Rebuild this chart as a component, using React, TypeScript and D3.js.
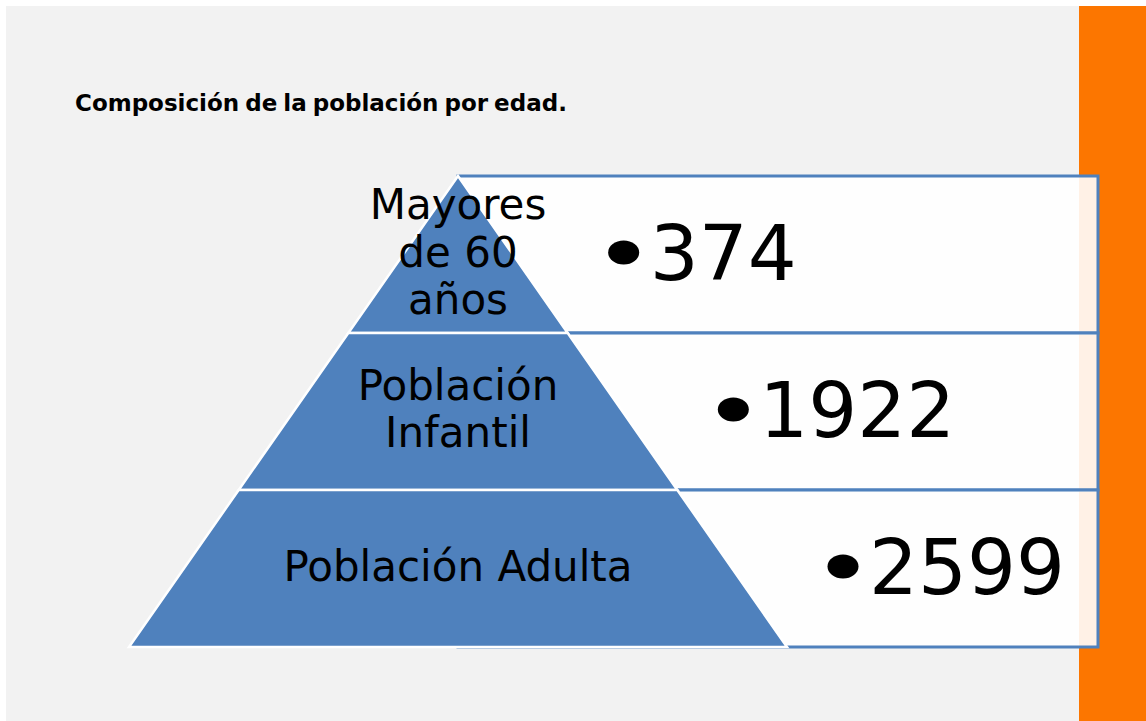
import React, { useEffect, useRef } from 'react';
import * as d3 from 'd3';

// datos del diagrama (de arriba hacia abajo)
const tierLabels: string[][] = [['Mayores', 'de 60', 'años'], ['Población', 'Infantil'], ['Población Adulta']];
const tierValues: number[] = [374, 1922, 2599];
const title = 'Composición de la población por edad.';

const W = 1146;
const H = 721;
const BLUE = '#4f81bd';
const ORANGE = '#fc7600';

const App = () => {
  const svgRef = useRef<SVGSVGElement | null>(null);

  useEffect(() => {
    document.body.style.margin = '0';
    const svg = d3.select(svgRef.current);
    svg.selectAll('*').remove();

    const top = 176;
    const bottom = 647;
    const apexX = 458;
    const baseHalf = 329;
    const boxRight = 1098;

    // fondo
    svg.append('rect').attr('x', 0).attr('y', 0).attr('width', W).attr('height', H).attr('fill', '#ffffff');
    svg.append('rect').attr('x', 6).attr('y', 6).attr('width', W - 6).attr('height', H - 6).attr('fill', '#f2f2f2');
    svg.append('rect').attr('x', 1079).attr('y', 6).attr('width', W - 1079).attr('height', H - 6).attr('fill', ORANGE);

    svg
      .append('text')
      .attr('x', 75)
      .attr('y', 111)
      .attr('font-family', '"DejaVu Sans", sans-serif')
      .attr('font-weight', 700)
      .attr('font-size', 23)
      .attr('word-spacing', -2)
      .attr('fill', '#000')
      .text(title);

    const idx = d3.range(tierValues.length);
    const yBand = d3.scaleBand<number>().domain(idx).range([top, bottom]).padding(0);
    const halfW = d3.scaleLinear().domain([top, bottom]).range([0, baseHalf]);

    // cajas de valores (detrás de la pirámide)
    const boxes = svg.append('g');
    idx.forEach((i) => {
      const y0 = yBand(i) as number;
      boxes
        .append('rect')
        .attr('x', apexX)
        .attr('y', y0)
        .attr('width', boxRight - apexX)
        .attr('height', yBand.bandwidth())
        .attr('fill', '#ffffff')
        .attr('fill-opacity', 0.9)
        .attr('stroke', BLUE)
        .attr('stroke-width', 3);
    });

    // pirámide
    const pyr = svg.append('g');
    idx.forEach((i) => {
      const y0 = yBand(i) as number;
      const y1 = y0 + yBand.bandwidth();
      const pts: [number, number][] = [
        [apexX - halfW(y0), y0],
        [apexX + halfW(y0), y0],
        [apexX + halfW(y1), y1],
        [apexX - halfW(y1), y1],
      ];
      pyr
        .append('path')
        .attr('d', d3.line()(pts) + 'Z')
        .attr('fill', BLUE)
        .attr('stroke', '#ffffff')
        .attr('stroke-width', 2.5)
        .attr('stroke-linejoin', 'miter');
    });

    // etiquetas
    idx.forEach((i) => {
      const y0 = yBand(i) as number;
      const cy = y0 + yBand.bandwidth() / 2;
      const lines = tierLabels[i];
      const t = svg
        .append('text')
        .attr('text-anchor', 'middle')
        .attr('font-family', '"DejaVu Sans", sans-serif')
        .attr('font-size', 42)
        .attr('fill', '#000');
      lines.forEach((ln, k) => {
        t.append('tspan')
          .attr('x', apexX)
          .attr('y', cy + 12 + (k - (lines.length - 1) / 2) * 47.5)
          .text(ln);
      });
    });

    // valores
    idx.forEach((i) => {
      const y0 = yBand(i) as number;
      const y1 = y0 + yBand.bandwidth();
      const cy = y0 + yBand.bandwidth() / 2;
      const x = apexX + halfW(y1) + 40;
      svg
        .append('ellipse')
        .attr('cx', x + 16)
        .attr('cy', cy - 2)
        .attr('rx', 15.5)
        .attr('ry', 12)
        .attr('fill', '#000');
      svg
        .append('text')
        .attr('x', x + 42)
        .attr('y', cy + 25)
        .attr('font-family', '"DejaVu Sans", sans-serif')
        .attr('font-size', 77)
        .attr('fill', '#000')
        .text(String(tierValues[i]));
    });
  }, []);

  return <svg ref={svgRef} width={W} height={H} style={{ display: 'block' }} />;
};

export default App;
